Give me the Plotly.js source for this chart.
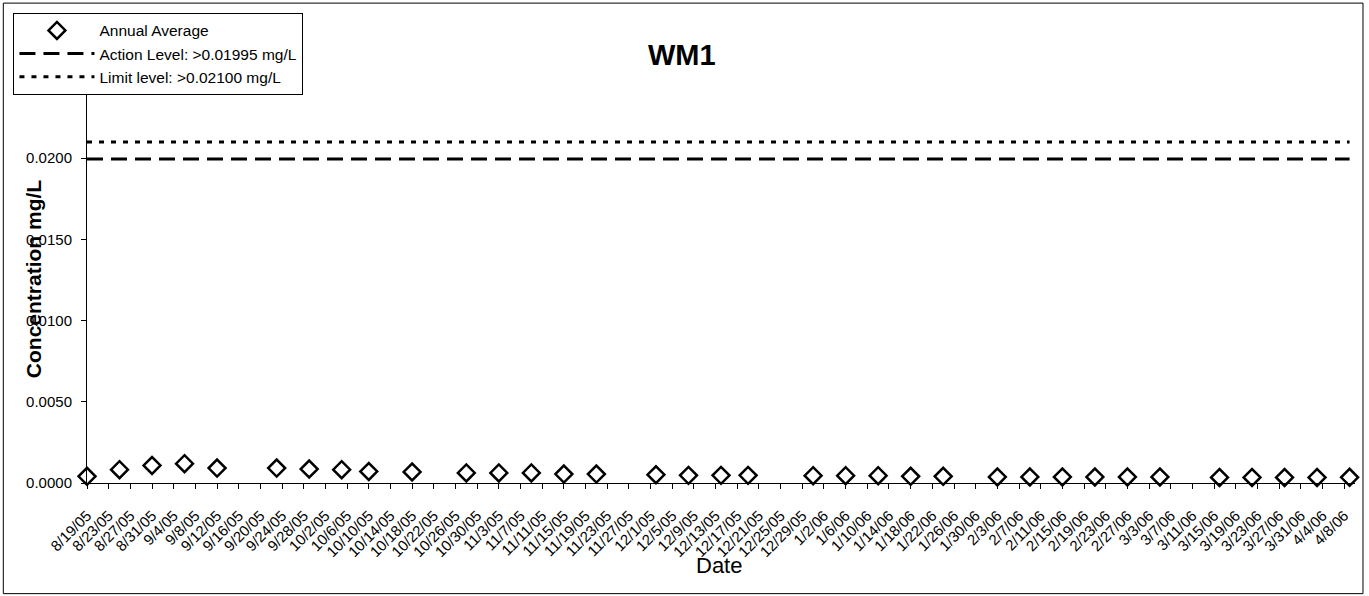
<!DOCTYPE html>
<html>
<head>
<meta charset="utf-8">
<script src="https://cdn.plot.ly/plotly-3.0.1.min.js"></script>
<style>html,body{margin:0;padding:0;background:#fff;}#chart{width:1369px;height:596px;}</style>
</head>
<body>
<div id="chart"></div>
<script>
// Sample dates and annual average values (mg/L)
var sampleDates = ["2005-08-19","2005-08-25","2005-08-31","2005-09-06","2005-09-12","2005-09-23","2005-09-29","2005-10-05","2005-10-10","2005-10-18","2005-10-28","2005-11-03","2005-11-09","2005-11-15","2005-11-21","2005-12-02","2005-12-08","2005-12-14","2005-12-19","2005-12-31","2006-01-06","2006-01-12","2006-01-18","2006-01-24","2006-02-03","2006-02-09","2006-02-15","2006-02-21","2006-02-27","2006-03-05","2006-03-16","2006-03-22","2006-03-28","2006-04-03","2006-04-09"];
var annualAverage = [0.00041,0.00082,0.00108,0.00119,0.00092,0.00092,0.00086,0.00082,0.00071,0.00068,0.00062,0.00062,0.00062,0.00055,0.00055,0.00051,0.00047,0.00047,0.00047,0.00045,0.00045,0.00045,0.00041,0.00041,0.00037,0.00037,0.00037,0.00037,0.00037,0.00037,0.00034,0.00034,0.00034,0.00034,0.00035];
var actionLevel = 0.01995;
var limitLevel = 0.02100;
var xRange = ["2005-08-19","2006-04-10"];
var yRange = [0, 0.025];
var yTicks = [0, 0.005, 0.010, 0.015, 0.020];
var yTitle = 'Concentration mg/L';
var xTitle = 'Date';

var actionY = sampleDates.map(function(){return actionLevel;});
var limitY = sampleDates.map(function(){return limitLevel;});

var traces = [
  {x: sampleDates, y: annualAverage, type: 'scatter', mode: 'markers', name: 'Annual Average', cliponaxis: false,
   marker: {symbol: 'diamond-open', size: 13, color: '#000', line: {width: 2.5, color: '#000'}}},
  {x: sampleDates, y: actionY, type: 'scatter', mode: 'lines', name: 'Action Level: >0.01995 mg/L',
   line: {color: '#000', width: 3, dash: '16px,8px'}},
  {x: sampleDates, y: limitY, type: 'scatter', mode: 'lines', name: 'Limit level: >0.02100 mg/L',
   line: {color: '#000', width: 3, dash: '5px,7px'}}
];

var layout = {
  width: 1369, height: 596,
  margin: {l: 87, r: 14, t: 77, b: 113},
  paper_bgcolor: '#fff', plot_bgcolor: '#fff',
  font: {family: 'Liberation Sans, Arial, sans-serif', size: 15, color: '#000'},
  title: {text: '<b>WM1</b>', font: {size: 29, color: '#000'}, x: 0.498, xref: 'container', xanchor: 'center', y: 0.908, yref: 'container', yanchor: 'middle'},
  showlegend: true,
  legend: {x: -0.058, y: 1.158, xanchor: 'left', yanchor: 'top', bordercolor: '#000', borderwidth: 1,
           bgcolor: '#fff', font: {size: 15.5}, itemwidth: 75, tracegroupgap: 0},
  xaxis: {type: 'date', range: xRange, tick0: '2005-08-19', dtick: 4*86400000, tickformat: '%-m/%-d/%y',
          tickangle: -45, ticks: 'outside', ticklen: 5, tickcolor: '#000', showgrid: false, zeroline: false,
          showline: true, linecolor: '#000', linewidth: 1, tickfont: {size: 15}, ticklabelstandoff: 12},
  yaxis: {range: yRange, tickvals: yTicks, tickformat: '.4f', ticks: 'outside', ticklen: 5, tickcolor: '#000',
          showgrid: false, zeroline: false, showline: true, linecolor: '#000', linewidth: 1, tickfont: {size: 15},
          ticklabelstandoff: 6},
  annotations: [
    {text: '<b>' + yTitle + '</b>', xref: 'paper', yref: 'paper', x: -0.0423, y: 0.503, xanchor: 'center', yanchor: 'middle',
     textangle: -90, showarrow: false, font: {size: 21, color: '#000'}},
    {text: xTitle, xref: 'paper', yref: 'paper', x: 0.4986, y: -0.2035, xanchor: 'center', yanchor: 'middle',
     showarrow: false, font: {size: 22, color: '#000'}}
  ],
  shapes: [
    {type: 'rect', xref: 'paper', yref: 'paper', x0: -0.066, x1: 1.0063, y0: -0.2725, y1: 1.182,
     line: {color: '#000', width: 1}, fillcolor: 'rgba(0,0,0,0)', layer: 'above'}
  ]
};

Plotly.newPlot('chart', traces, layout, {displayModeBar: false, staticPlot: true});
</script>
</body>
</html>
